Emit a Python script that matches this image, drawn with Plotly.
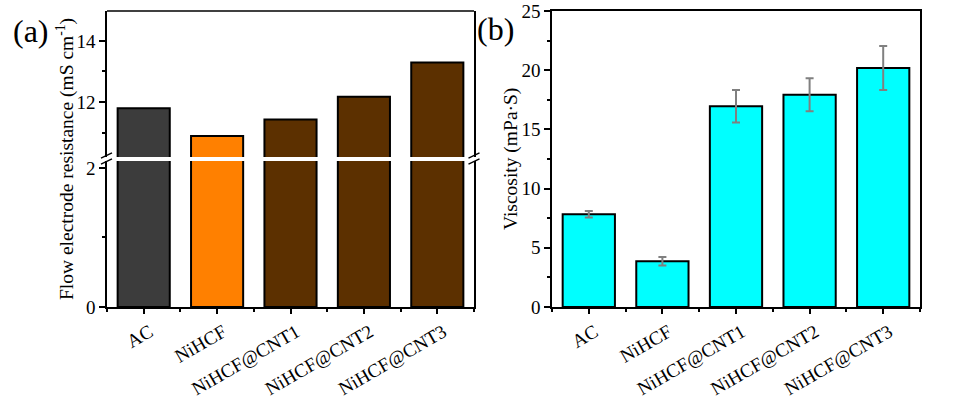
import plotly.graph_objects as go

categories = ["AC", "NiHCF", "NiHCF@CNT1", "NiHCF@CNT2", "NiHCF@CNT3"]
resistance = [11.80, 10.89, 11.43, 12.17, 13.29]
resistance_colors = ["#3c3c3c", "#ff8000", "#5c3000", "#5c3000", "#5c3000"]
viscosity = [7.83, 3.86, 16.95, 17.93, 20.19]
viscosity_err = [0.27, 0.36, 1.37, 1.39, 1.86]

W, H = 975, 398
FONT = "Liberation Serif, Times New Roman, serif"
idx = list(range(len(categories)))

def px(x):
    return x / W

def py(y):
    return 1 - y / H

fig = go.Figure()

bar_style = dict(width=0.71, marker_line_color="black", marker_line_width=2, showlegend=False)

# left panel: lower and upper segments of broken axis
fig.add_trace(go.Bar(x=idx, y=resistance, marker_color=resistance_colors,
                     xaxis="x", yaxis="y", **bar_style))
fig.add_trace(go.Bar(x=idx, y=resistance, marker_color=resistance_colors,
                     xaxis="x", yaxis="y3", **bar_style))
# right panel
fig.add_trace(go.Bar(x=idx, y=viscosity, marker_color="#00ffff",
                     error_y=dict(type="data", array=viscosity_err, color="#808080",
                                  thickness=2, width=4),
                     xaxis="x2", yaxis="y2", **bar_style))

tickfont = dict(family=FONT, size=19, color="black")
axis_common = dict(showline=True, linecolor="black", linewidth=1.5, ticks="outside",
                   tickcolor="black", tickwidth=1.5, showgrid=False, zeroline=False,
                   tickfont=tickfont, automargin=False)

xcommon = dict(axis_common, range=[-0.5, 4.5], tickmode="array", tickvals=idx,
               ticktext=categories, tickangle=-30, ticklen=5, ticklabelshift=6,
               minor=dict(tickmode="linear", tick0=-0.5, dtick=1, ticklen=3,
                          ticks="outside", tickcolor="black", tickwidth=1.5))

fig.update_layout(
    width=W, height=H,
    margin=dict(l=0, r=0, t=0, b=0),
    paper_bgcolor="white", plot_bgcolor="white",
    bargap=0.29,
    xaxis=dict(xcommon, domain=[px(107), px(474)], anchor="y"),
    yaxis=dict(axis_common, domain=[py(307), py(161)], anchor="x", range=[0, 2.10],
               tick0=0, dtick=2, ticklen=6, mirror=True,
               minor=dict(dtick=1, tick0=0, ticklen=3, ticks="outside",
                          tickcolor="black", tickwidth=1.5)),
    yaxis3=dict(axis_common, domain=[py(157), py(11)], anchor="x", range=[10.2, 14.98],
                tick0=0, dtick=2, ticklen=6, mirror=True,
                minor=dict(dtick=1, tick0=0, ticklen=3, ticks="outside",
                           tickcolor="black", tickwidth=1.5)),
    xaxis2=dict(xcommon, domain=[px(552), px(920)], anchor="y2", mirror=True),
    yaxis2=dict(axis_common, domain=[py(307), py(11)], anchor="x2", range=[0, 25],
                tick0=0, dtick=5, ticklen=6, mirror=True,
                minor=dict(dtick=2.5, tick0=0, ticklen=3, ticks="outside",
                           tickcolor="black", tickwidth=1.5)),
)

shapes = [
    # top frame line of left panel
    dict(type="line", xref="x domain", yref="y3 domain", x0=0, x1=1, y0=1, y1=1,
         line=dict(color="black", width=1.5)),
]
# break marks on left and right axis lines of panel (a)
for ax in (106.5, 474):
    for yc in (155.5, 161.5):
        shapes.append(dict(type="line", xref="paper", yref="paper",
                           x0=px(ax - 5.5), x1=px(ax + 5.5),
                           y0=py(yc + 2.7), y1=py(yc - 2.7),
                           line=dict(color="black", width=1.3)))
fig.update_layout(shapes=shapes)

ann = dict(xref="paper", yref="paper", showarrow=False, xanchor="center", yanchor="middle")
fig.add_annotation(text="Flow electrode resistance (mS cm<sup>-1</sup>)", textangle=-90,
                   x=px(65), y=py(159), font=dict(family=FONT, size=19.5, color="black"), **ann)
fig.add_annotation(text="Viscosity (mPa·S)", textangle=-90,
                   x=px(511), y=py(159), font=dict(family=FONT, size=19.5, color="black"), **ann)
fig.add_annotation(text="(a)", x=px(31), y=py(31),
                   font=dict(family=FONT, size=32, color="black"), **ann)
fig.add_annotation(text="(b)", x=px(495), y=py(29),
                   font=dict(family=FONT, size=32, color="black"), **ann)

fig.write_html("out.html", config={"displayModeBar": False},
               post_script="document.body.style.margin='0px';")
